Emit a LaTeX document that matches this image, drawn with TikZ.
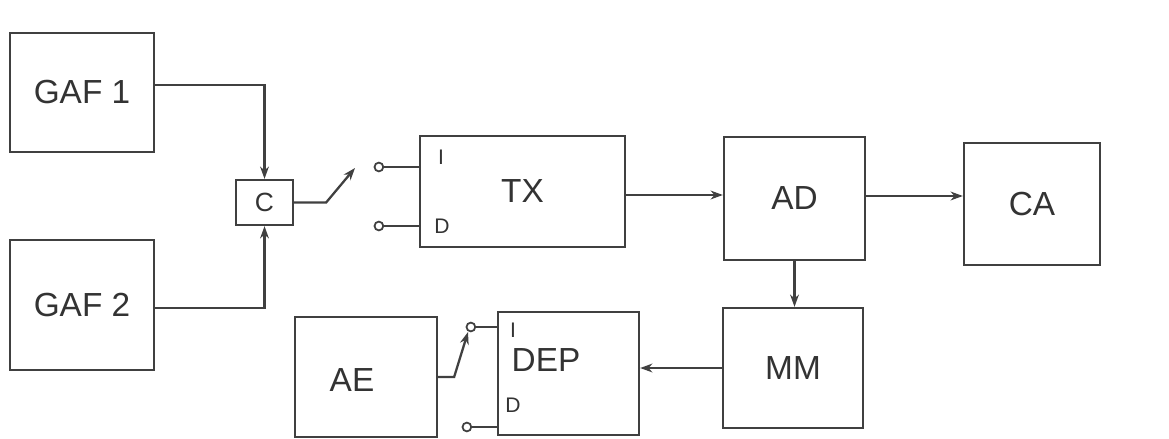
\documentclass[tikz,border=0pt]{standalone}
\usepackage{fontspec}
\setsansfont{Liberation Sans}
\usetikzlibrary{arrows.meta,positioning}

\begin{document}
\begin{tikzpicture}[x=0.02cm, y=-0.02cm, line width=1.3pt, draw=black!75, text=black!80,
  block/.style={draw, inner sep=0pt, font=\sffamily\fontsize{19}{22}\selectfont},
  pin/.style={font=\sffamily\fontsize{12}{14}\selectfont},
  wire/.style={-{Stealth[length=7pt,width=5pt]}},
  contact/.style={circle, draw, fill=white, inner sep=0pt, minimum size=5pt, line width=1pt}]
\useasboundingbox (0,0) rectangle (1169,439);
% blocks
\node[block, minimum width=2.88cm, minimum height=2.38cm] (gaf1) at (82,92.5) {GAF 1};
\node[block, minimum width=2.88cm, minimum height=2.6cm] (gaf2) at (82,305) {GAF 2};
\node[block, minimum width=1.14cm, minimum height=0.9cm, font=\sffamily\fontsize{15}{18}\selectfont] (comb) at (264.5,202.5) {C};
\node[block, minimum width=4.1cm, minimum height=2.22cm] (tx) at (522.5,191.5) {TX};
\node[block, minimum width=2.82cm, minimum height=2.46cm] (ad) at (794.5,198.5) {AD};
\node[block, minimum width=2.72cm, minimum height=2.44cm] (ca) at (1032,204) {CA};
\node[block, minimum width=2.8cm, minimum height=2.4cm] (mm) at (793,368) {MM};
\node[block, minimum width=2.82cm, minimum height=2.46cm] (dep) at (568.5,373.5) {};
\node[font=\sffamily\fontsize{19}{22}\selectfont] (deptext) at (546,360) {DEP};
\node[block, minimum width=2.84cm, minimum height=2.4cm] (ae) at (366,377) {};
\node[font=\sffamily\fontsize{19}{22}\selectfont] (aetext) at (352,380) {AE};
% input pins
\node[pin] (txI) at (441,157) {I};
\node[pin] (txD) at (442,226) {D};
\node[pin] (depI) at (513,330) {I};
\node[pin] (depD) at (513,405) {D};
% combiner inputs
\draw[wire] (gaf1.east |- 0,85) -| (comb.north);
\draw[wire] (gaf2.east |- 0,308) -| (comb.south);
% switch in front of TX
\draw (tx.west |- 0,167) -- ++(-40,0) node[contact] (kI) {};
\draw (tx.west |- 0,226) -- ++(-40,0) node[contact] (kD) {};
\coordinate (bladeC) at (355,168);
\draw[wire] (comb.east) -- ++(32,0) -- (bladeC);
% main chain
\draw[wire] (tx.east |- 0,195) -- (ad.west |- 0,195);
\draw[wire] (ad.east |- 0,196) -- (ca.west |- 0,196);
\draw[wire] (ad.south) -- (ad.south |- mm.north);
\draw[wire] (mm.west) -- (mm.west -| dep.east);
% switch in front of DEP
\draw (dep.west |- 0,327) -- ++(-26,0) node[contact] (mI) {};
\draw (dep.west |- 0,427) -- ++(-30,0) node[contact] (mD) {};
\coordinate (bladeE) at (468,332);
\draw[wire] (ae.east) -- ++(16,0) -- (bladeE);
\end{tikzpicture}
\end{document}
